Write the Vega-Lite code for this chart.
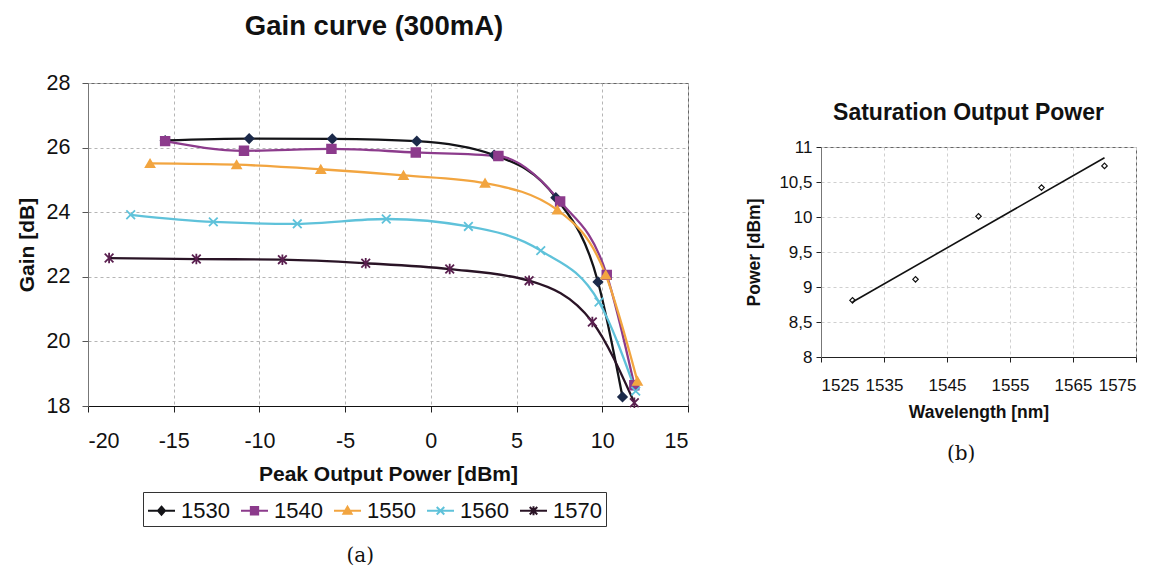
{
  "$schema": "https://vega.github.io/schema/vega-lite/v6.json",
  "background": "white",
  "padding": {"left": 15, "top": 12, "right": 5, "bottom": 5},
  "center": true,
  "spacing": 56,
  "resolve": {
    "scale": {"color": "independent", "fill": "independent", "stroke": "independent", "shape": "independent"},
    "legend": {"color": "independent", "fill": "independent", "stroke": "independent", "shape": "independent"}
  },
  "config": {
    "font": "Liberation Sans",
    "view": {"stroke": "#666", "strokeWidth": 1},
    "axis": {"labelColor": "#111", "titleColor": "#111", "labelFont": "Liberation Sans", "titleFont": "Liberation Sans", "titleFontWeight": "bold", "gridDash": [3, 3], "gridColor": "#b5b5b5", "tickColor": "#222", "domainColor": "#222"},
    "title": {"font": "Liberation Sans", "fontWeight": "bold", "color": "#111"}
  },
  "datasets": {
    "gain": [
      {"series": "1530", "power": -15.5, "gain": 26.22},
      {"series": "1530", "power": -10.6, "gain": 26.28},
      {"series": "1530", "power": -5.75, "gain": 26.27},
      {"series": "1530", "power": -0.82, "gain": 26.2},
      {"series": "1530", "power": 3.69, "gain": 25.77},
      {"series": "1530", "power": 7.29, "gain": 24.45},
      {"series": "1530", "power": 9.75, "gain": 21.84},
      {"series": "1530", "power": 11.18, "gain": 18.28},
      {"series": "1540", "power": -15.5, "gain": 26.2},
      {"series": "1540", "power": -10.9, "gain": 25.9},
      {"series": "1540", "power": -5.8, "gain": 25.96},
      {"series": "1540", "power": -0.88, "gain": 25.85},
      {"series": "1540", "power": 3.94, "gain": 25.74},
      {"series": "1540", "power": 7.54, "gain": 24.33},
      {"series": "1540", "power": 10.26, "gain": 22.06},
      {"series": "1540", "power": 11.87, "gain": 18.64},
      {"series": "1550", "power": -16.38, "gain": 25.51},
      {"series": "1550", "power": -11.33, "gain": 25.47},
      {"series": "1550", "power": -6.42, "gain": 25.33},
      {"series": "1550", "power": -1.6, "gain": 25.14},
      {"series": "1550", "power": 3.16, "gain": 24.9},
      {"series": "1550", "power": 7.38, "gain": 24.07},
      {"series": "1550", "power": 10.2, "gain": 22.06},
      {"series": "1550", "power": 12.05, "gain": 18.77},
      {"series": "1560", "power": -17.51, "gain": 23.92},
      {"series": "1560", "power": -12.69, "gain": 23.7},
      {"series": "1560", "power": -7.79, "gain": 23.64},
      {"series": "1560", "power": -2.6, "gain": 23.79},
      {"series": "1560", "power": 2.19, "gain": 23.56},
      {"series": "1560", "power": 6.41, "gain": 22.81},
      {"series": "1560", "power": 9.81, "gain": 21.22},
      {"series": "1560", "power": 11.95, "gain": 18.46},
      {"series": "1570", "power": -18.77, "gain": 22.58},
      {"series": "1570", "power": -13.68, "gain": 22.55},
      {"series": "1570", "power": -8.66, "gain": 22.53},
      {"series": "1570", "power": -3.8, "gain": 22.42},
      {"series": "1570", "power": 1.1, "gain": 22.24},
      {"series": "1570", "power": 5.73, "gain": 21.88},
      {"series": "1570", "power": 9.42, "gain": 20.6},
      {"series": "1570", "power": 11.87, "gain": 18.1}
    ],
    "sat": [
      {"wavelength": 1530, "power": 8.81},
      {"wavelength": 1540, "power": 9.11},
      {"wavelength": 1550, "power": 10.01},
      {"wavelength": 1560, "power": 10.42},
      {"wavelength": 1570, "power": 10.73}
    ]
  },
  "hconcat": [
    {
      "title": {"text": "(a)", "orient": "bottom", "anchor": "middle", "font": "DejaVu Serif", "fontWeight": "normal", "fontSize": 20, "offset": 19, "dx": 8},
      "resolve": {
        "scale": {"color": "independent", "fill": "independent", "stroke": "independent", "shape": "independent"},
        "legend": {"color": "independent", "fill": "independent", "stroke": "independent", "shape": "independent"}
      },
      "vconcat": [
        {
          "width": 600,
          "height": 323,
          "title": {"text": "Gain curve (300mA)", "fontSize": 27.5, "offset": 32, "dx": -14},
          "data": {"name": "gain"},
          "encoding": {
            "x": {"field": "power", "type": "quantitative", "scale": {"domain": [-20, 15], "nice": false, "zero": false},
              "axis": {"title": "Peak Output Power [dBm]", "values": [-20, -15, -10, -5, 0, 5, 10, 15], "labelExpr": "'' + datum.value", "labelFontSize": 21.5, "titleFontSize": 21, "tickSize": 6, "labelPadding": 18, "titlePadding": 12, "domainColor": "#111"}},
            "y": {"field": "gain", "type": "quantitative", "scale": {"domain": [18, 28], "nice": false, "zero": false},
              "axis": {"title": "Gain [dB]", "values": [18, 20, 22, 24, 26, 28], "labelFontSize": 21.5, "titleFontSize": 21, "tickSize": 6, "labelPadding": 12, "titlePadding": 9, "domainColor": "#777", "tickColor": "#555"}}
          },
          "layer": [
            {
              "mark": {"type": "line", "interpolate": "monotone", "strokeWidth": 2.3},
              "encoding": {
                "color": {"field": "series", "type": "nominal",
                  "scale": {"domain": ["1530", "1540", "1550", "1560", "1570"], "range": ["#141418", "#8c3b8c", "#f2a540", "#5fc2da", "#2a1426"]},
                  "legend": {
                    "title": null, "orient": "none", "legendX": 55, "legendY": 409, "direction": "horizontal",
                    "labelFontSize": 22, "labelColor": "#111", "labelFont": "Liberation Sans", "labelOffset": 5,
                    "symbolSize": 729, "symbolStrokeWidth": 2, "columnPadding": 7,
                    "strokeColor": "#333", "padding": 4, "fillColor": "white",
                    "encode": {"symbols": {"update": {
                      "shape": {"signal": "datum.value === '1530' ? 'M-1,0L1,0M0,-0.3L0.26,0L0,0.3L-0.26,0Z' : datum.value === '1540' ? 'M-1,0L1,0M-0.27,-0.27L0.27,-0.27L0.27,0.27L-0.27,0.27Z' : datum.value === '1550' ? 'M-1,0L1,0M0,-0.3L0.3,0.22L-0.3,0.22Z' : datum.value === '1560' ? 'M-1,0L1,0M-0.28,-0.28L0.28,0.28M-0.28,0.28L0.28,-0.28' : 'M-1,0L1,0M-0.28,-0.28L0.28,0.28M-0.28,0.28L0.28,-0.28M0,-0.34L0,0.34'"},
                      "stroke": {"signal": "datum.value === '1530' ? '#141418' : datum.value === '1540' ? '#8c3b8c' : datum.value === '1550' ? '#f2a540' : datum.value === '1560' ? '#5fc2da' : '#2a1426'"},
                      "fill": {"signal": "datum.value === '1530' ? '#141418' : datum.value === '1540' ? '#8c3b8c' : datum.value === '1550' ? '#f2a540' : datum.value === '1560' ? '#5fc2da' : '#5a1f4f'"},
                      "strokeWidth": {"value": 2},
                      "opacity": {"value": 1}
                    }}}
                  }}
              }
            },
            {
              "mark": {"type": "point", "filled": true, "size": 75, "strokeWidth": 1.8, "opacity": 1},
              "encoding": {
                "fill": {"field": "series", "type": "nominal", "legend": null,
                  "scale": {"domain": ["1570", "1560", "1550", "1540", "1530"], "range": ["#5a1f4f", "#5fc2da", "#f2a540", "#8c3b8c", "#1c2a4a"]}},
                "stroke": {"field": "series", "type": "nominal", "legend": null,
                  "scale": {"domain": ["1570", "1560", "1550", "1540", "1530"], "range": ["#5a1f4f", "#5fc2da", "#f2a540", "#8c3b8c", "#1c2a4a"]}},
                "shape": {"field": "series", "type": "nominal", "legend": null,
                  "scale": {"domain": ["1570", "1560", "1550", "1540", "1530"], "range": ["M-1,-1L1,1M-1,1L1,-1M0,-1.2L0,1.2", "M-1,-1L1,1M-1,1L1,-1", "triangle-up", "square", "diamond"]}}
              }
            }
          ]
        }
      ]
    },
    {
      "title": {"text": ["(b)", " ", " "], "lineHeight": 19, "orient": "bottom", "anchor": "middle", "font": "DejaVu Serif", "fontWeight": "normal", "fontSize": 20, "offset": 23, "dx": 20},
      "vconcat": [
        {
          "width": 315,
          "height": 210,
          "title": {"text": "Saturation Output Power", "fontSize": 23, "offset": 13, "dx": -10},
          "data": {"name": "sat"},
          "encoding": {
            "x": {"field": "wavelength", "type": "quantitative", "scale": {"domain": [1525, 1575], "nice": false, "zero": false},
              "axis": {"title": "Wavelength [nm]", "values": [1525, 1535, 1545, 1555, 1565, 1575], "labelExpr": "'' + datum.value", "labelFontSize": 17, "titleFontSize": 17.5, "tickSize": 5, "labelPadding": 15, "titlePadding": 10, "gridColor": "#cfcfcf", "labelOverlap": false}},
            "y": {"field": "power", "type": "quantitative", "scale": {"domain": [8, 11], "nice": false, "zero": false},
              "axis": {"title": "Power [dBm]", "values": [8, 8.5, 9, 9.5, 10, 10.5, 11], "labelExpr": "replace('' + datum.value, '.', ',')", "labelFontSize": 17, "titleFontSize": 17.5, "tickSize": 5, "labelPadding": 4, "titlePadding": 15, "gridColor": "#cfcfcf", "domainColor": "#777"}}
          },
          "layer": [
            {
              "transform": [{"regression": "power", "on": "wavelength", "method": "linear", "extent": [1530, 1570]}],
              "mark": {"type": "line", "color": "#111", "strokeWidth": 1.6},
              "encoding": {}
            },
            {
              "mark": {"type": "point", "shape": "diamond", "filled": false, "size": 30, "color": "#111", "strokeWidth": 1.2, "opacity": 1},
              "encoding": {}
            }
          ]
        }
      ]
    }
  ]
}
